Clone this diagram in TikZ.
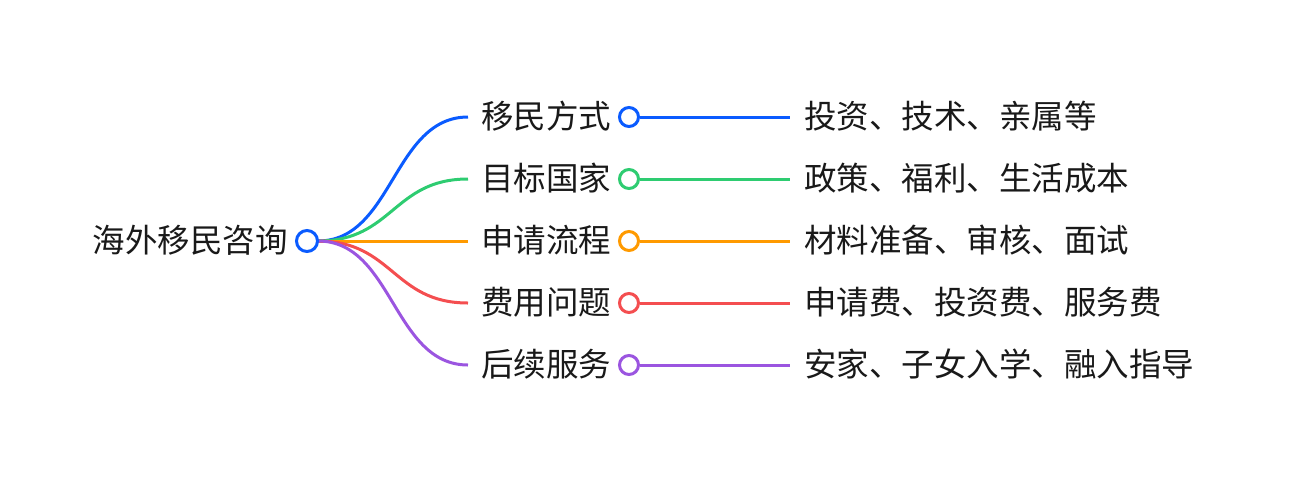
\documentclass[tikz,border=0pt]{standalone}
\usepackage{fontspec}
\setmainfont{Noto Sans CJK SC}
\definecolor{cblue}{HTML}{0A5BFF}
\definecolor{cgreen}{HTML}{2ECC71}
\definecolor{corange}{HTML}{FF9A00}
\definecolor{cred}{HTML}{F44E50}
\definecolor{cpurple}{HTML}{9B55E0}
\tikzset{
  lbl/.style={inner sep=0pt, font=\fontsize{32.5}{38}\selectfont, text=black!90},
  dot/.style={circle, draw=#1, fill=white, line width=3pt, minimum size=19pt, inner sep=0pt},
  branch/.style={draw=#1, line width=3pt},
}
\begin{document}
\begin{tikzpicture}[x=1pt,y=-1pt]
\useasboundingbox (0,0) rectangle (1290,480);
\node[lbl, anchor=base east] (root) at (288,252) {海外移民咨询};
\coordinate (rs) at (318,241);
\foreach \i/\y/\c/\a/\b in {1/117/cblue/移民方式/投资、技术、亲属等,
                            2/179/cgreen/目标国家/政策、福利、生活成本,
                            3/241/corange/申请流程/材料准备、审核、面试,
                            4/303/cred/费用问题/申请费、投资费、服务费,
                            5/365/cpurple/后续服务/安家、子女入学、融入指导}{
  \coordinate (ce\i) at (468,\y);
  \draw[branch=\c] (rs) .. controls (393,241) and (393,\y) .. (ce\i);
  \node[lbl, anchor=base west] (c\i) at (481,\y+11) {\a};
  \coordinate (le\i) at (790,\y);
  \node[lbl, anchor=base west] (l\i) at (804,\y+11) {\b};
  \node[dot=\c] (d\i) at (629,\y) {};
  \draw[branch=\c] (d\i.east) -- (le\i);
}
\node[dot=cblue, minimum size=21pt] (rd) at (307,241) {};
\end{tikzpicture}
\end{document}
